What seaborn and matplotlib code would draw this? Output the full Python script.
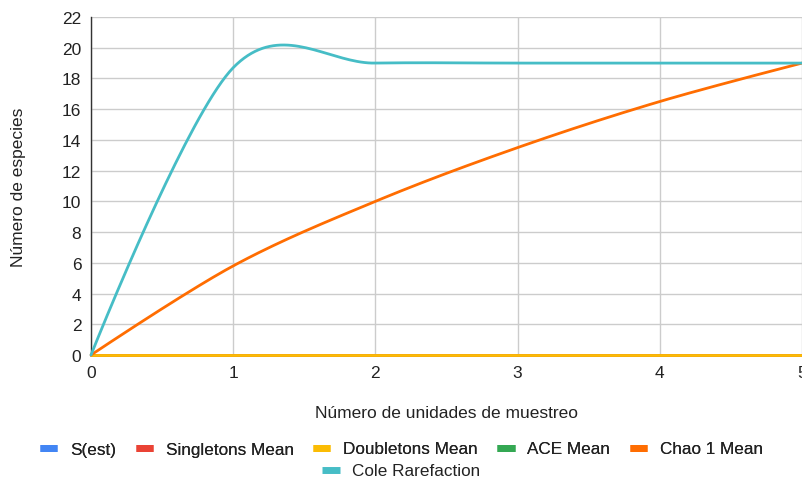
import numpy as np
import pandas as pd
import matplotlib
matplotlib.use('Agg')
import matplotlib.pyplot as plt
from matplotlib.lines import Line2D
import seaborn as sns

# data
muestras = [0, 1, 2, 3, 4, 5]
s_est = [0, 0, 0, 0, 0, 0]
singletons = [0, 0, 0, 0, 0, 0]
doubletons = [0, 0, 0, 0, 0, 0]
ace = [np.nan] * 6
chao1 = [0, 5.8, 10, 13.5, 16.5, 19]
cole = [0, 18.7, 19, 19, 19, 19]

series = ['S(est)', 'Singletons Mean', 'Doubletons Mean', 'ACE Mean',
          'Chao 1 Mean', 'Cole Rarefaction']
valores = [s_est, singletons, doubletons, ace, chao1, cole]
colores = ['#4285F4', '#EA4335', '#FBBC04', '#34A853', '#FF6D01', '#46BDC6']


def suavizar(xs, ys, n=40):
    """Bezier smoothing like the spreadsheet 'smooth line' option."""
    pts = np.column_stack([xs, ys]).astype(float)
    out = []
    t = np.linspace(0, 1, n)[:, None]
    for i in range(len(pts) - 1):
        p0, p3 = pts[i], pts[i + 1]
        c1 = p0 if i == 0 else p0 + (p3 - pts[i - 1]) / 6
        c2 = p3 if i + 2 >= len(pts) else p3 - (pts[i + 2] - p0) / 6
        seg = ((1 - t) ** 3) * p0 + 3 * ((1 - t) ** 2) * t * c1 \
            + 3 * (1 - t) * t ** 2 * c2 + t ** 3 * p3
        out.append(seg if i == 0 else seg[1:])
    return np.vstack(out)


filas = []
for nombre, vals in zip(series, valores):
    if np.all(np.isnan(vals)):
        continue
    curva = suavizar(muestras, vals)
    for x, y in curva:
        filas.append({'x': x, 'y': y, 'serie': nombre})
df = pd.DataFrame(filas)

sns.set_theme(style='white')
plt.rcParams['font.family'] = ['Liberation Sans', 'DejaVu Sans']

FS = 12.5
fig = plt.figure(figsize=(8.03, 4.81), dpi=100)
ax = fig.add_axes([91 / 803, 1 - 356 / 481, 711 / 803, 338 / 481])

sns.lineplot(data=df, x='x', y='y', hue='serie', hue_order=series,
             palette=dict(zip(series, colores)), sort=False, estimator=None,
             linewidth=2, legend=False, ax=ax, clip_on=False, zorder=3)

ax.set_xlim(0, 5)
ax.set_ylim(0, 22)
ax.set_xticks(range(0, 6))
ax.set_yticks(range(0, 23, 2))
ax.grid(True, color='#cccccc', linewidth=1)
ax.set_axisbelow(True)
for s in ['top', 'right']:
    ax.spines[s].set_visible(False)
for s in ['left', 'bottom']:
    ax.spines[s].set_color('#333333')
    ax.spines[s].set_linewidth(1)
ax.tick_params(length=0, labelsize=FS, colors='#222222', pad=7)

ax.set_xlabel('Número de unidades de muestreo', fontsize=FS, color='#222222',
              va='center', ha='center')
ax.set_ylabel('Número de especies', fontsize=FS, color='#222222',
              va='center', ha='center')
ax.xaxis.set_label_coords(0.5, (356 - 413) / 338)
ax.yaxis.set_label_coords((19 - 91) / 711, 0.5)

LFS = 12.3
handles = [Line2D([], [], color=c, linewidth=5, solid_capstyle='butt')
           for c in colores]
leg1 = fig.legend(handles[:5], series[:5], loc='center', ncol=5,
                  bbox_to_anchor=(0.5, 1 - 450 / 481), frameon=False,
                  fontsize=LFS, handlelength=1.0, handletextpad=0.75,
                  columnspacing=1.15, labelcolor='#222222')
fig.add_artist(leg1)
fig.legend(handles[5:], series[5:], loc='center',
           bbox_to_anchor=(0.5, 1 - 472 / 481), frameon=False,
           fontsize=LFS, handlelength=1.0, handletextpad=0.75,
           labelcolor='#222222')

fig.savefig('out.png', dpi=100)
